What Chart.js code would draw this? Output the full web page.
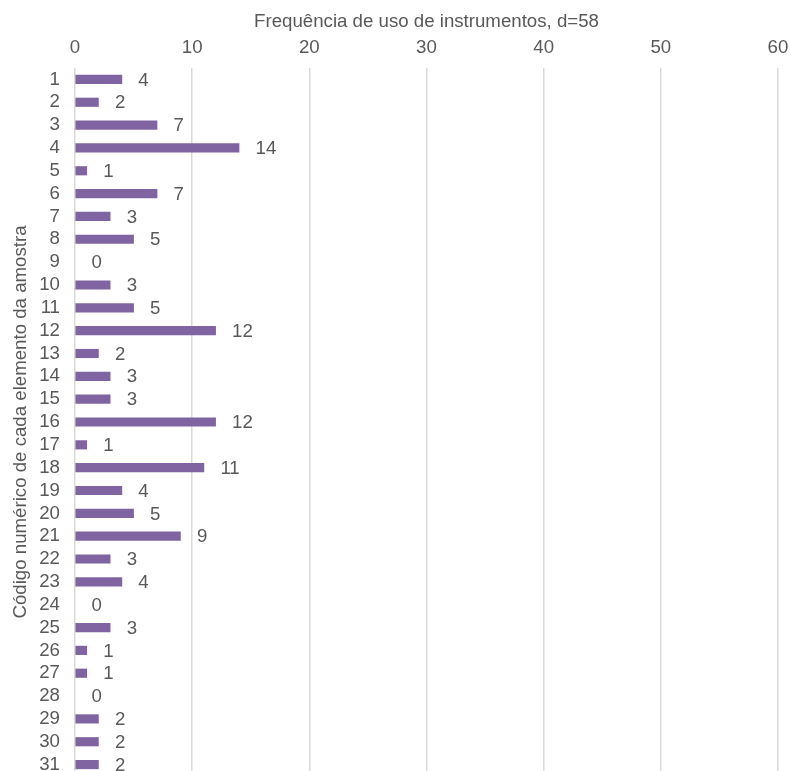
<!DOCTYPE html>
<html>
<head>
<meta charset="utf-8">
<script src="https://cdn.jsdelivr.net/npm/chart.js@4.4.0/dist/chart.umd.min.js"></script>
<style>
  html, body { margin: 0; padding: 0; background: #ffffff; overflow: hidden; }
  #wrap { width: 790px; height: 776px; position: relative; }
</style>
</head>
<body>
<div id="wrap"><canvas id="c"></canvas></div>
<script>
const categories = ['1','2','3','4','5','6','7','8','9','10','11','12','13','14','15','16','17','18','19','20','21','22','23','24','25','26','27','28','29','30','31'];
const frequencies = [4,2,7,14,1,7,3,5,0,3,5,12,2,3,3,12,1,11,4,5,9,3,4,0,3,1,1,0,2,2,2];
const xTicks = [0,10,20,30,40,50,60];
const xTitle = 'Frequência de uso de instrumentos, d=58';
const yTitle = 'Código numérico de cada elemento da amostra';

const textColor = '#595959';
const barColor = '#8064A2';
const fontFamily = '"Liberation Sans", Arial, sans-serif';
const fontSize = 18.67;

const valueLabels = {
  id: 'valueLabels',
  afterDatasetsDraw(chart) {
    const ctx = chart.ctx;
    const xs = chart.scales.x;
    const meta = chart.getDatasetMeta(0);
    ctx.save();
    ctx.fillStyle = textColor;
    ctx.font = fontSize + 'px ' + fontFamily;
    ctx.textAlign = 'left';
    ctx.textBaseline = 'middle';
    meta.data.forEach((bar, i) => {
      const v = chart.data.datasets[0].data[i];
      const x = xs.getPixelForValue(v) + 16.5;
      ctx.fillText(String(v), x, bar.y + 1);
    });
    ctx.restore();
  }
};

new Chart(document.getElementById('c'), {
  type: 'bar',
  data: {
    labels: categories,
    datasets: [{
      data: frequencies,
      backgroundColor: frequencies.map(v => v === 0 ? 'rgba(0,0,0,0)' : barColor),
      borderWidth: 0,
      barThickness: 8.5
    }]
  },
  options: {
    indexAxis: 'y',
    responsive: true,
    maintainAspectRatio: false,
    animation: false,
    layout: { padding: { left: 0, right: 12, top: 0, bottom: 0 } },
    plugins: {
      legend: { display: false },
      tooltip: { enabled: false }
    },
    scales: {
      x: {
        position: 'top',
        min: xTicks[0],
        max: xTicks[xTicks.length - 1],
        afterBuildTicks: s => { s.ticks = xTicks.map(v => ({ value: v })); },
        afterFit: s => { s.height = 68; s.paddingLeft = 0; s.paddingRight = 0; },
        ticks: { color: textColor, font: { size: fontSize, family: fontFamily }, padding: 9 },
        grid: { color: '#D9D9D9', lineWidth: 1.5, drawTicks: false },
        border: { display: false },
        title: { display: true, text: xTitle, color: textColor, font: { size: fontSize, family: fontFamily }, padding: { top: 10.5, bottom: 0 } }
      },
      y: {
        type: 'category',
        afterFit: s => { s.width = 75; s.paddingTop = 0; s.paddingBottom = 0; },
        ticks: { color: textColor, font: { size: fontSize, family: fontFamily }, padding: 15, autoSkip: false },
        grid: { display: false, drawTicks: false },
        border: { display: false },
        title: { display: true, text: yTitle, color: textColor, font: { size: fontSize, family: fontFamily }, padding: { top: 10, bottom: 0 } }
      }
    }
  },
  plugins: [valueLabels]
});
</script>
</body>
</html>
